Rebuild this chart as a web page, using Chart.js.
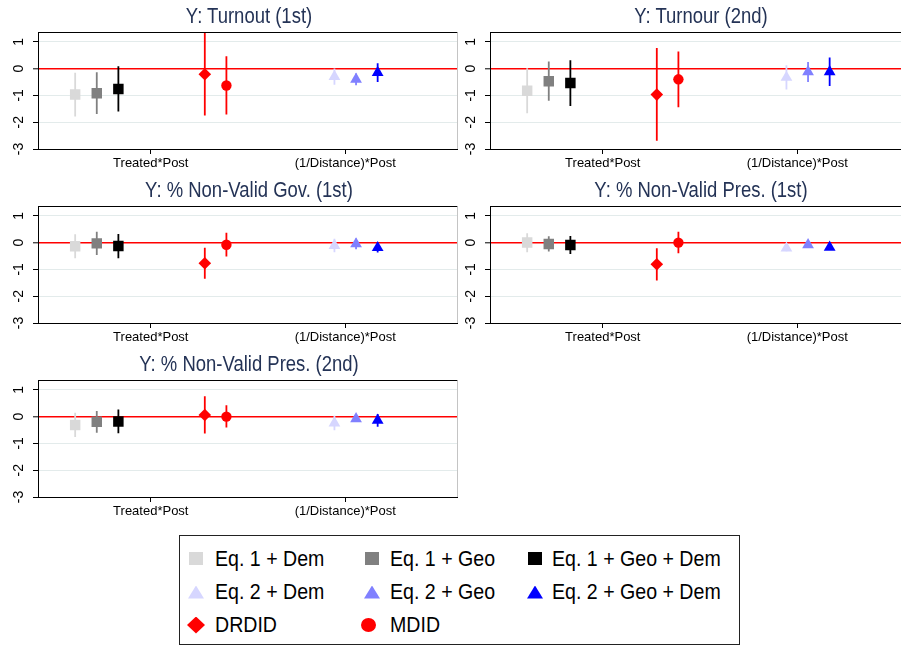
<!DOCTYPE html>
<html>
<head>
<meta charset="utf-8">
<script src="https://cdn.jsdelivr.net/npm/chart.js@4.4.1/dist/chart.umd.min.js"></script>
<style>
  html, body { margin: 0; padding: 0; background: #fff; }
  body { width: 901px; height: 646px; overflow: hidden; position: relative;
         font-family: 'Liberation Sans', Arial, sans-serif; }
  canvas.panel { position: absolute; }
  .title {
    position: absolute; white-space: nowrap; font-size: 22px; line-height: 26px; color: #243356;
    transform: translate(-50%, -50%) scaleX(0.84);
  }
  #legend {
    position: absolute; left: 179px; top: 535px; width: 561px; height: 110px;
    box-sizing: border-box; border: 1px solid #222; font-size: 22px; color: #000;
  }
  .key { position: absolute; }
  .lbl { position: absolute; line-height: 26px; white-space: nowrap; transform: scaleX(0.89); transform-origin: 0 50%; }
</style>
</head>
<body>
<canvas id="p0" class="panel" width="465" height="175" style="left:0px;top:0px"></canvas>
<canvas id="p1" class="panel" width="465" height="175" style="left:452px;top:0px"></canvas>
<canvas id="p2" class="panel" width="465" height="175" style="left:0px;top:174px"></canvas>
<canvas id="p3" class="panel" width="465" height="175" style="left:452px;top:174px"></canvas>
<canvas id="p4" class="panel" width="465" height="175" style="left:0px;top:348px"></canvas>
<div id="legend"></div>
<script>
// 系列と位置
const seriesNames = ['Eq. 1 + Dem', 'Eq. 1 + Geo', 'Eq. 1 + Geo + Dem',
                     'Eq. 2 + Dem', 'Eq. 2 + Geo', 'Eq. 2 + Geo + Dem',
                     'DRDID', 'MDID'];
const seriesPos = [1, 2, 3, 13, 14, 15, 7, 8];
const seriesColor = ['#d9d9d9', '#808080', '#000000', '#d6d6ff', '#8080ff', '#0000ff', '#ff0000', '#ff0000'];
const seriesShape = ['rect', 'rect', 'rect', 'triangle', 'triangle', 'triangle', 'rectRot', 'circle'];
const seriesSize = [7.4, 7.4, 7.4, 6.8, 6.8, 6.8, 6.3, 5.2];

const categories = ['Treated*Post', '(1/Distance)*Post'];
const categoryTicks = [4.5, 13.5];
const yTicks = [-3, -2, -1, 0, 1];

const panelTitles = ['Y: Turnout (1st)', 'Y: Turnour (2nd)', 'Y: % Non-Valid Gov. (1st)',
                     'Y: % Non-Valid Pres. (1st)', 'Y: % Non-Valid Pres. (2nd)'];

// 推定値と信頼区間
const turnout1Est = [-0.97, -0.92, -0.76, -0.30, -0.40, -0.15, -0.21, -0.63];
const turnout1Lo  = [-1.79, -1.69, -1.60, -0.60, -0.62, -0.50, -1.75, -1.71];
const turnout1Hi  = [-0.16, -0.14, 0.09, 0.00, -0.18, 0.20, 1.33, 0.46];

const turnout2Est = [-0.83, -0.47, -0.54, -0.33, -0.12, -0.12, -0.97, -0.40];
const turnout2Lo  = [-1.67, -1.20, -1.40, -0.78, -0.50, -0.65, -2.69, -1.44];
const turnout2Hi  = [0.01, 0.26, 0.31, 0.12, 0.25, 0.41, 0.77, 0.64];

const govEst = [-0.14, -0.03, -0.13, -0.11, -0.05, -0.19, -0.77, -0.08];
const govLo  = [-0.58, -0.46, -0.58, -0.36, -0.25, -0.37, -1.35, -0.52];
const govHi  = [0.31, 0.40, 0.32, 0.14, 0.15, -0.01, -0.19, 0.37];

const pres1Est = [0.00, -0.05, -0.09, -0.21, -0.08, -0.18, -0.81, 0.00];
const pres1Lo  = [-0.36, -0.33, -0.43, -0.32, -0.20, -0.28, -1.41, -0.40];
const pres1Hi  = [0.35, 0.24, 0.25, -0.10, 0.04, -0.08, -0.21, 0.40];

const pres2Est = [-0.31, -0.19, -0.18, -0.24, -0.08, -0.14, 0.06, 0.00];
const pres2Lo  = [-0.76, -0.60, -0.62, -0.51, -0.20, -0.38, -0.63, -0.41];
const pres2Hi  = [0.14, 0.21, 0.26, 0.03, 0.04, 0.10, 0.76, 0.42];

const FONT = "'Liberation Sans', Arial, sans-serif";

// 枠線（上と右）
const framePlugin = {
  id: 'frame',
  beforeDatasetsDraw(chart) {
    const { ctx, chartArea: a } = chart;
    ctx.save();
    ctx.lineWidth = 1;
    ctx.strokeStyle = '#000';
    ctx.beginPath();
    ctx.moveTo(a.left, Math.round(a.top) + 0.5);
    ctx.lineTo(a.right, Math.round(a.top) + 0.5);
    ctx.stroke();
    ctx.strokeStyle = '#c4c4c4';
    ctx.beginPath();
    ctx.moveTo(Math.round(a.right) - 0.5, a.top);
    ctx.lineTo(Math.round(a.right) - 0.5, a.bottom);
    ctx.stroke();
    ctx.restore();
  }
};

function buildDatasets(est, lo, hi) {
  const sets = [];
  seriesNames.forEach((name, i) => {
    sets.push({
      label: name,
      data: [{ x: seriesPos[i], y: est[i] }],
      pointStyle: seriesShape[i],
      pointRadius: seriesSize[i],
      pointBackgroundColor: seriesColor[i],
      pointBorderWidth: 0,
      showLine: false,
      order: 0
    });
    sets.push({
      label: name + ' CI',
      data: [{ x: seriesPos[i], y: lo[i] }, { x: seriesPos[i], y: hi[i] }],
      borderColor: seriesColor[i],
      borderWidth: 1.8,
      pointRadius: 0,
      showLine: true,
      order: 1
    });
  });
  return sets;
}

function makePanel(id, title, est, lo, hi) {
  const canvas = document.getElementById(id);
  // タイトル（横を詰めた文字）
  const t = document.createElement('div');
  t.className = 'title';
  t.textContent = title;
  t.style.left = (parseFloat(canvas.style.left) + 248.5) + 'px';
  t.style.top = (parseFloat(canvas.style.top) + 16.2) + 'px';
  document.body.appendChild(t);

  return new Chart(canvas, {
    type: 'scatter',
    data: { datasets: buildDatasets(est, lo, hi) },
    options: {
      responsive: false,
      animation: false,
      layout: { padding: { left: 0, right: 6, top: 32.4, bottom: 0 } },
      plugins: {
        legend: { display: false },
        tooltip: { enabled: false },
        title: { display: false }
      },
      scales: {
        x: {
          type: 'linear',
          min: -0.72,
          max: 18.7,
          afterBuildTicks: s => { s.ticks = categoryTicks.map(v => ({ value: v })); },
          afterFit: s => { s.height = 26; },
          ticks: {
            callback: (v, i) => categories[i],
            autoSkip: false,
            maxRotation: 0,
            padding: 2,
            color: '#000',
            font: { family: FONT, size: 13 }
          },
          grid: { drawOnChartArea: false, drawTicks: true, tickLength: 5, tickColor: '#000' },
          border: { color: '#000', width: 1 }
        },
        y: {
          type: 'linear',
          min: -3,
          max: 1.35,
          afterBuildTicks: s => { s.ticks = yTicks.map(v => ({ value: v })); },
          afterFit: s => { s.width = 38; },
          ticks: {
            minRotation: 90,
            maxRotation: 90,
            crossAlign: 'center',
            padding: 8,
            color: '#000',
            font: { family: FONT, size: 14 }
          },
          grid: {
            color: c => c.tick.value === 0 ? '#ff0000' : (c.tick.value === -3 ? 'rgba(0,0,0,0)' : '#e3ebeb'),
            lineWidth: c => c.tick.value === 0 ? 1.6 : 1,
            tickColor: '#000',
            tickWidth: 1,
            tickLength: 5
          },
          border: { color: '#000', width: 1 }
        }
      }
    },
    plugins: [framePlugin]
  });
}

makePanel('p0', panelTitles[0], turnout1Est, turnout1Lo, turnout1Hi);
makePanel('p1', panelTitles[1], turnout2Est, turnout2Lo, turnout2Hi);
makePanel('p2', panelTitles[2], govEst, govLo, govHi);
makePanel('p3', panelTitles[3], pres1Est, pres1Lo, pres1Hi);
makePanel('p4', panelTitles[4], pres2Est, pres2Lo, pres2Hi);

// 凡例
const legendCols = [16, 192, 355];
const legendTextX = [35, 210, 372];
const legendRows = [22.5, 56, 89];
const keyCss = {
  rect: 'width:14px;height:13px;',
  triangle: 'width:16px;height:13px;clip-path:polygon(50% 0,100% 100%,0 100%);',
  rectRot: 'width:18px;height:17px;clip-path:polygon(50% 0,100% 50%,50% 100%,0 50%);',
  circle: 'width:15px;height:14px;border-radius:50%;'
};
const keyW = { rect: 14, triangle: 16, rectRot: 18, circle: 15 };
const keyH = { rect: 13, triangle: 13, rectRot: 17, circle: 14 };
const legend = document.getElementById('legend');
seriesNames.forEach((name, i) => {
  const row = Math.floor(i / 3), col = i % 3;
  const shape = seriesShape[i];
  let cx = legendCols[col];
  if (shape === 'circle') cx -= 4;
  const key = document.createElement('div');
  key.className = 'key';
  key.style.cssText = keyCss[shape] + 'background:' + seriesColor[i] + ';left:' + (cx - keyW[shape] / 2) +
    'px;top:' + (legendRows[row] - keyH[shape] / 2) + 'px;';
  legend.appendChild(key);
  const lbl = document.createElement('div');
  lbl.className = 'lbl';
  lbl.textContent = name;
  lbl.style.left = legendTextX[col] + 'px';
  lbl.style.top = (legendRows[row] - 13) + 'px';
  legend.appendChild(lbl);
});
</script>
</body>
</html>
